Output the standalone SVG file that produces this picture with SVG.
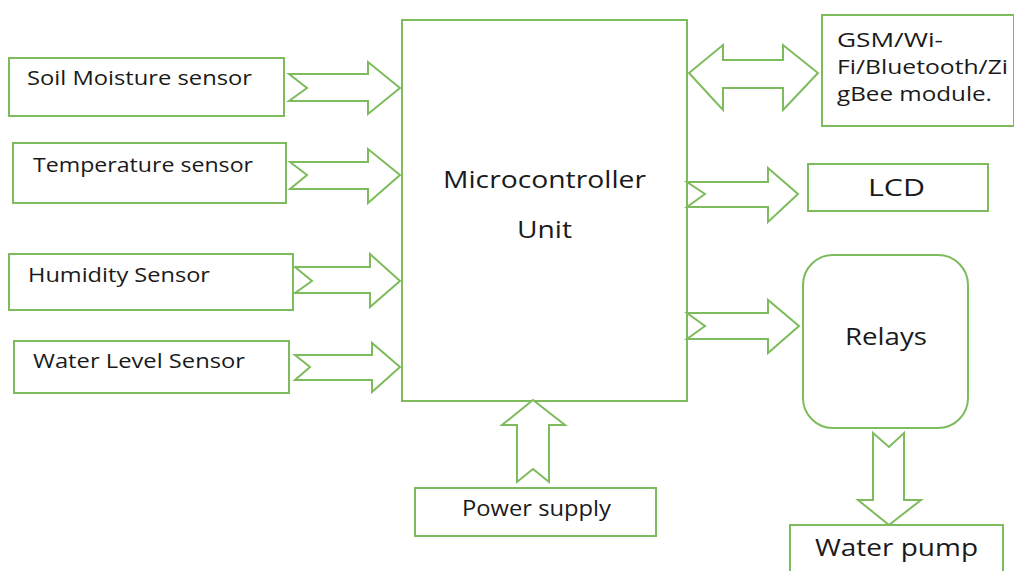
<svg xmlns="http://www.w3.org/2000/svg" width="1014" height="571" viewBox="0 0 1014 571">
<style>
.b{fill:#fff;stroke:#7dbb5c;stroke-width:2}
.a{fill:#fff;stroke:#7dbb5c;stroke-width:2;stroke-linejoin:miter}
text{font-family:"Open Sans","Liberation Sans",sans-serif;fill:#1a1a1a}
.s{font-size:20px}
.m{font-size:21px}
.l{font-size:23px}
.c{text-anchor:middle}
</style>
<rect width="1014" height="571" fill="#fff"/>
<g id="micro"><rect class="b" x="402" y="20" width="285" height="381"/>
<text class="l" x="443" y="188" textLength="203" lengthAdjust="spacingAndGlyphs">Microcontroller</text>
<text class="l" x="517" y="238" textLength="55" lengthAdjust="spacingAndGlyphs">Unit</text></g>
<g id="soil"><rect class="b" x="9" y="58" width="275" height="58"/><text class="s" x="27" y="85" textLength="225" lengthAdjust="spacingAndGlyphs">Soil Moisture sensor</text></g>
<g id="temp"><rect class="b" x="13" y="143" width="273" height="60"/><text class="s" x="33" y="172" textLength="220" lengthAdjust="spacingAndGlyphs">Temperature sensor</text></g>
<g id="hum"><rect class="b" x="9" y="254" width="284" height="56"/><text class="s" x="28" y="282" textLength="182" lengthAdjust="spacingAndGlyphs">Humidity Sensor</text></g>
<g id="water"><rect class="b" x="14" y="341" width="275" height="52"/><text class="s" x="33" y="368" textLength="212" lengthAdjust="spacingAndGlyphs">Water Level Sensor</text></g>
<g id="gsm"><rect class="b" x="822" y="15" width="192" height="111"/>
<text class="s" x="837" y="47" textLength="106" lengthAdjust="spacingAndGlyphs">GSM/Wi-</text><text class="s" x="837" y="74" textLength="171" lengthAdjust="spacingAndGlyphs">Fi/Bluetooth/Zi</text><text class="s" x="837" y="101" textLength="155" lengthAdjust="spacingAndGlyphs">gBee module.</text></g>
<g id="lcd"><rect class="b" x="808" y="164" width="180" height="47"/><text class="l" x="868" y="196" textLength="57" lengthAdjust="spacingAndGlyphs">LCD</text></g>
<g id="relays"><rect class="b" x="803" y="255" width="165" height="173" rx="30"/><text class="l" x="845" y="345" textLength="82" lengthAdjust="spacingAndGlyphs">Relays</text></g>
<g id="pump"><rect class="b" x="790" y="525" width="213" height="60"/><text class="l" x="815" y="556" textLength="163" lengthAdjust="spacingAndGlyphs">Water pump</text></g>
<g id="power"><rect class="b" x="415" y="488" width="241" height="48"/><text class="m" x="462" y="516" textLength="149" lengthAdjust="spacingAndGlyphs">Power supply</text></g>
<g id="connectors">
<polygon class="a" points="289,74 368,74 368,62 400,88 368,114 368,101 289,101 307,88"/>
<polygon class="a" points="290,162 368,162 368,149 400,175 368,203 368,189 290,189 307,175"/>
<polygon class="a" points="295,267 370,267 370,254 400,281 370,307 370,293 295,293 312,281"/>
<polygon class="a" points="295,355 372,355 372,343 400,367 372,392 372,380 295,380 310,367"/>
<polygon class="a" points="689,73 723,45 723,60 783,60 783,45 818,73 783,110 783,88 723,88 723,110"/>
<polygon class="a" points="687,182 768,182 768,168 798,194 768,222 768,207 687,207 705,194"/>
<polygon class="a" points="687,313 768,313 768,300 799,326 768,353 768,339 687,339 705,326"/>
<polygon class="a" points="873,433 889,447 904,433 904,500 921,500 889,525 858,500 873,500"/>
<polygon class="a" points="533,400 565,425 549,425 549,482 533,469 517,482 517,425 502,425"/>
</g>
</svg>
